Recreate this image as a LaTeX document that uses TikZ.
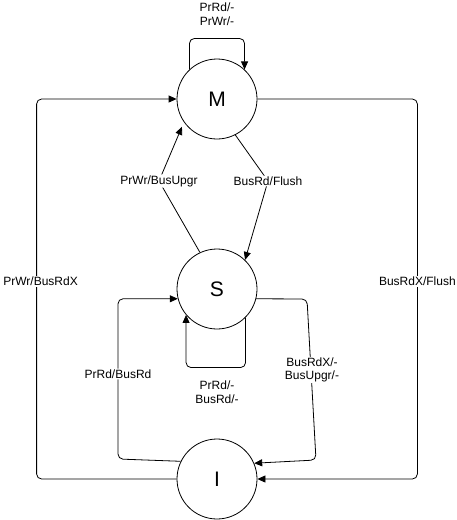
\documentclass[tikz,border=0pt]{standalone}
\usepackage{fontspec}
\setmainfont{Liberation Sans}
\usetikzlibrary{arrows.meta}
\begin{document}
\begin{tikzpicture}[x=1pt,y=-1pt,
  state/.style={circle,draw,line width=0.8pt,minimum size=80pt,inner sep=0pt,font=\fontsize{21}{24}\selectfont},
  arr/.style={draw,line width=0.8pt,-{Triangle[length=8pt,width=7pt]},rounded corners=5pt},
  lab/.style={fill=white,inner sep=1pt,align=center,font=\fontsize{12}{13.5}\selectfont}]
\useasboundingbox (0,0) rectangle (457,520);
\node[state] (M) at (217,99) {M};
\node[state] (S) at (217,289) {S};
\node[state] (I) at (217,479) {I};
% M self loop
\draw[arr] (M.133) -- ++(0,-31) -| (M.47);
\node[lab] (lM) at (217,14) {PrRd/-\\PrWr/-};
% left big loop I -> M
\draw[arr] (I.west) -- ++(-140,0) |- (M.west) node[lab,pos=0.26,xshift=4pt] {PrWr/BusRdX};
% right big loop M -> I
\draw[arr] (M.east) -- ++(160,0) |- (I.east) node[lab,pos=0.24] {BusRdX/Flush};
% S -> M
\draw[arr,shorten >=5pt] (S.115) -- (159,181) node[lab]{PrWr/BusUpgr} -- (M.215);
% M -> S
\draw[arr] (M.-63) -- (268,181) node[lab]{BusRd/Flush} -- (S.46);
% S self loop
\draw[arr] (S.-45) -- ++(0,50) -| (S.220);
\node[lab] (lS) at (217,392) {PrRd/-\\BusRd/-};
% I -> S
\draw[arr] (I.154) -- (118,459) |- (S.194) node[lab,pos=0.265]{PrRd/BusRd};
% S -> I
\draw[arr] (S.-14) -- (307,299) -- (316,460) -- (I.23);
\node[lab] (lSI) at (312,370) {BusRdX/-\\BusUpgr/-};
\end{tikzpicture}
\end{document}
